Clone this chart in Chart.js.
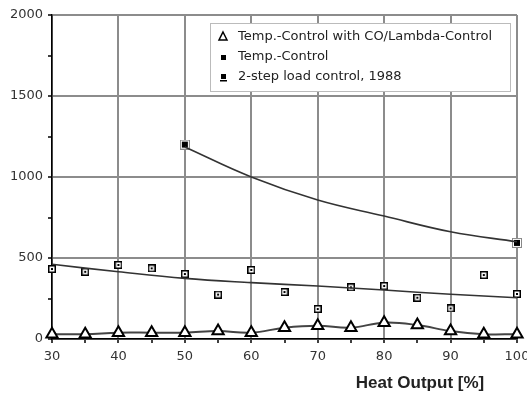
<!DOCTYPE html>
<html>
<head>
<meta charset="utf-8">
<script src="https://cdn.jsdelivr.net/npm/chart.js@4.4.1/dist/chart.umd.min.js"></script>
<style>
  html, body { margin: 0; padding: 0; background: #fff; }
  #wrap { width: 527px; height: 395px; }
</style>
</head>
<body>
<div id="wrap"><canvas id="chart" width="527" height="395"></canvas></div>
<script>
// heat output [%]
var outputs = [30, 35, 40, 45, 50, 55, 60, 65, 70, 75, 80, 85, 90, 95, 100];
// Temp.-Control with CO/Lambda-Control
var coLambda = [30, 30, 39, 39, 39, 49, 39, 70, 82, 70, 101, 86, 49, 30, 30];
// Temp.-Control, measured points + its curve
var tempCtrlX = [50, 100];
var tempCtrlY = [1200, 593];
var tempCurveX = [50, 60, 70, 80, 90, 100];
var tempCurveY = [1185, 1000, 858, 759, 662, 600];
// 2-step load control, 1988
var twoStep = [432, 415, 457, 436, 401, 274, 426, 290, 185, 319, 327, 255, 189, 395, 278];
var twoStepCurveX = [30, 40, 50, 60, 70, 80, 90, 100];
var twoStepCurveY = [461, 415, 374, 348, 327, 302, 276, 255];

var legendLabels = ["Temp.-Control with CO/Lambda-Control", "Temp.-Control", "2-step load control, 1988"];
var xTitle = "Heat Output [%]";

function pts(xs, ys) {
    return xs.map(function (x, i) { return { x: x, y: ys[i] }; });
}

// marker pictures
function tempCtrlMarker() {
    var c = document.createElement("canvas");
    c.width = 10; c.height = 10;
    var g = c.getContext("2d");
    g.fillStyle = "#fff";
    g.fillRect(0, 0, 10, 10);
    g.strokeStyle = "#888";
    g.lineWidth = 1;
    g.strokeRect(0.5, 0.5, 9, 9);
    g.fillStyle = "#000";
    g.fillRect(2, 2, 6, 6);
    return c;
}
function twoStepMarker() {
    var c = document.createElement("canvas");
    c.width = 8; c.height = 8;
    var g = c.getContext("2d");
    g.fillStyle = "#fff";
    g.fillRect(0, 0, 8, 8);
    g.strokeStyle = "#000";
    g.lineWidth = 1.5;
    g.strokeRect(0.75, 0.75, 6.5, 6.5);
    g.fillStyle = "#000";
    g.fillRect(3, 3, 2, 2);
    return c;
}
var mTemp = tempCtrlMarker();
var mTwo = twoStepMarker();

var axisTitlePlugin = {
    id: "axisTitle",
    afterDraw: function (chart) {
        var ctx = chart.ctx;
        ctx.save();
        ctx.font = "bold 17px 'Liberation Sans', Arial, sans-serif";
        ctx.fillStyle = "#222";
        ctx.textAlign = "center";
        ctx.textBaseline = "middle";
        ctx.fillText(xTitle, 420, 383);
        ctx.restore();
    }
};

var legendPlugin = {
    id: "boxLegend",
    afterDraw: function (chart) {
        var ctx = chart.ctx;
        var x0 = 210, y0 = 23, w = 300, h = 68;
        ctx.save();
        ctx.fillStyle = "#fff";
        ctx.fillRect(x0, y0, w, h);
        ctx.strokeStyle = "#bbb";
        ctx.lineWidth = 1;
        ctx.strokeRect(x0 + 0.5, y0 + 0.5, w, h);
        ctx.font = "13px 'DejaVu Sans', sans-serif";
        ctx.fillStyle = "#222";
        ctx.textBaseline = "middle";
        var mx = 223;
        for (var i = 0; i < legendLabels.length; i++) {
            var y = 37 + i * 20;
            ctx.fillText(legendLabels[i], 238, y);
        }
        // triangle
        ctx.strokeStyle = "#000";
        ctx.lineWidth = 1.5;
        ctx.beginPath();
        ctx.moveTo(mx, 32);
        ctx.lineTo(mx + 4, 40);
        ctx.lineTo(mx - 4, 40);
        ctx.closePath();
        ctx.stroke();
        // small square
        ctx.fillStyle = "#000";
        ctx.fillRect(mx - 2, 55, 5, 5);
        // square with underline
        ctx.fillRect(mx - 2, 74, 5, 5);
        ctx.fillRect(mx - 3, 80, 7, 1.5);
        ctx.restore();
    }
};

var gridGray = "#8c8c8c";

new Chart(document.getElementById("chart"), {
    type: "scatter",
    data: {
        datasets: [
            {
                label: legendLabels[0],
                data: pts(outputs, coLambda),
                showLine: true,
                tension: 0.4,
                borderColor: "#444",
                borderWidth: 2,
                pointStyle: "triangle",
                pointRadius: 6.5,
                pointBorderWidth: 2,
                pointBorderColor: "#000",
                pointBackgroundColor: "#fff",
                clip: false
            },
            {
                label: "curve1",
                data: pts(tempCurveX, tempCurveY),
                showLine: true,
                tension: 0.4,
                borderColor: "#333",
                borderWidth: 1.6,
                pointRadius: 0
            },
            {
                label: "curve2",
                data: pts(twoStepCurveX, twoStepCurveY),
                showLine: true,
                tension: 0.4,
                borderColor: "#333",
                borderWidth: 1.6,
                pointRadius: 0
            },
            {
                label: legendLabels[1],
                data: pts(tempCtrlX, tempCtrlY),
                pointStyle: mTemp,
                clip: false
            },
            {
                label: legendLabels[2],
                data: pts(outputs, twoStep),
                pointStyle: mTwo,
                clip: false
            }
        ]
    },
    options: {
        responsive: false,
        animation: false,
        layout: { padding: { top: 15, right: 10, left: 0, bottom: 0 } },
        plugins: {
            legend: { display: false },
            tooltip: { enabled: false }
        },
        scales: {
            x: {
                type: "linear",
                min: 30,
                max: 100,
                afterFit: function (s) { s.height = 56; s.paddingRight = 0; s.paddingLeft = 0; },
                ticks: {
                    stepSize: 5,
                    padding: 6,
                    color: "#333",
                    font: { family: "'DejaVu Sans', sans-serif", size: 13 },
                    callback: function (v) { return v % 10 === 0 ? v : ""; }
                },
                grid: {
                    lineWidth: 2,
                    color: function (c) { return c.tick && c.tick.value % 10 === 0 ? gridGray : "rgba(0,0,0,0)"; },
                    tickColor: "#000",
                    tickLength: 4,
                    tickWidth: 1.5
                },
                border: { color: "#000", width: 1.5 }
            },
            y: {
                min: 0,
                max: 2000,
                afterFit: function (s) { s.width = 52; s.paddingTop = 0; s.paddingBottom = 0; },
                ticks: {
                    stepSize: 250,
                    padding: 5,
                    color: "#333",
                    font: { family: "'DejaVu Sans', sans-serif", size: 13 },
                    callback: function (v) { return v % 500 === 0 ? v : ""; }
                },
                grid: {
                    lineWidth: 2,
                    color: function (c) { return c.tick && c.tick.value % 500 === 0 ? gridGray : "rgba(0,0,0,0)"; },
                    tickColor: "#000",
                    tickLength: 4,
                    tickWidth: 1.5
                },
                border: { color: "#000", width: 1.5 }
            }
        }
    },
    plugins: [legendPlugin, axisTitlePlugin]
});
</script>
</body>
</html>
